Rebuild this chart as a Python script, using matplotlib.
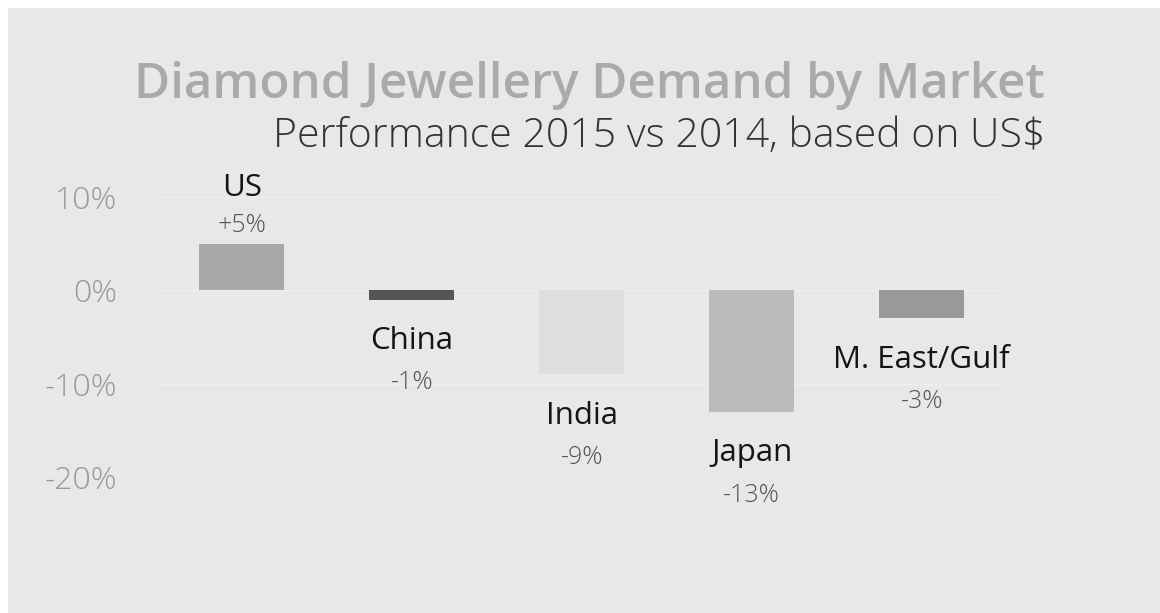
import matplotlib
matplotlib.use('Agg')
import matplotlib.pyplot as plt
from matplotlib.patches import Rectangle

plt.rcParams['font.family'] = ['Open Sans', 'DejaVu Sans']

markets = ['US', 'China', 'India', 'Japan', 'M. East/Gulf']
change = [5, -1, -9, -13, -3]
value_labels = ['+5%', '-1%', '-9%', '-13%', '-3%']
bar_colors = ['#a8a8a8', '#555555', '#dedede', '#bbbbbb', '#999999']
yticks = [10, 0, -10, -20]
ytick_labels = ['10%', '0%', '-10%', '-20%']

W, H = 1160, 613
fig = plt.figure(figsize=(W / 100, H / 100), dpi=100)
fig.patch.set_facecolor('white')

# grey panel behind everything
fig.patches.append(Rectangle((8 / W, 0), 1, 1 - 8 / H, transform=fig.transFigure,
                             facecolor='#e8e8e8', edgecolor='none', zorder=-10))

ax = fig.add_axes([155 / W, 1 - 477 / H, 850 / W, 280 / H])
ax.set_facecolor('none')
ax.set_xlim(-0.51, 4.49)
ax.set_ylim(-20, 10)

for t in yticks:
    ax.axhline(t, color='#efefef', lw=1, zorder=1)

x = list(range(len(markets)))
ax.bar(x, change, width=0.5, color=bar_colors, zorder=2, clip_on=False)

# market name and value next to the end of each bar
name_kw = dict(textcoords='offset points', ha='center', va='center', fontsize=22.5,
               color='#151515', annotation_clip=False)
val_kw = dict(textcoords='offset points', ha='center', va='center', fontsize=18,
              fontweight='light', color='#555555', annotation_clip=False)
for xi, name, v, lab in zip(x, markets, change, value_labels):
    if v >= 0:
        ax.annotate(name, (xi, v), xytext=(0, 40), **name_kw)
        ax.annotate(lab, (xi, v), xytext=(0, 13), **val_kw)
    else:
        ax.annotate(name, (xi, v), xytext=(0, -30), **name_kw)
        ax.annotate(lab, (xi, v), xytext=(0, -60), **val_kw)

ax.set_yticks(yticks)
ax.set_yticklabels(ytick_labels, fontsize=23, fontweight='light', color='#999999')
ax.tick_params(axis='y', length=0, pad=27)
ax.set_xticks([])
for s in ax.spines.values():
    s.set_visible(False)

fig.text(1045 / W, 1 - 85 / H, 'Diamond Jewellery Demand by Market', ha='right',
         va='center', fontsize=35.5, fontweight='semibold', color='#aaaaaa')
fig.text(1045 / W, 1 - 137 / H, 'Performance 2015 vs 2014, based on US$', ha='right',
         va='center', fontsize=29.5, fontweight='light', color='#333333')

fig.savefig('out.png', dpi=100, facecolor=fig.get_facecolor())
